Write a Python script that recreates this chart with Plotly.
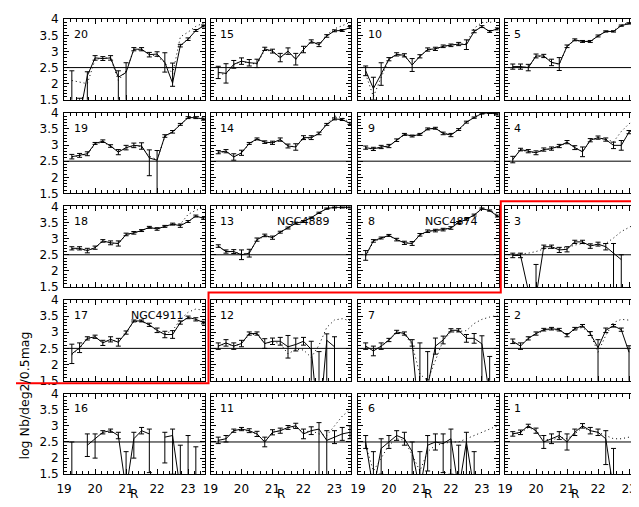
import plotly.graph_objects as go

# ---------------- data ----------------
R = [19.25, 19.5, 19.75, 20.0, 20.25, 20.5, 20.75, 21.0, 21.25, 21.5,
     21.75, 22.0, 22.25, 22.5, 22.75, 23.0, 23.25, 23.5]

panel_order = [20, 15, 10, 5, 19, 14, 9, 4, 18, 13, 8, 3, 17, 12, 7, 2, 16, 11, 6, 1]

# counts (log N), upper errors, lower errors, model (dotted)
v20 = [1.0, 1.0, 2.25, 2.8, 2.78, 2.8, 2.2, 2.35, 3.07, 3.07, 2.9, 2.92, 2.66, 2.02, 3.18, 3.38, 3.65, 3.79]
p20 = [1.4, 0.55, 0.12, 0.07, 0.06, 0.07, 0.2, 0.3, 0.05, 0.05, 0.07, 0.07, 0.3, 0.62, 0.04, 0.04, 0.03, 0.03]
n20 = [1.4, 0.55, 0.8, 0.07, 0.06, 0.07, 0.8, 0.9, 0.05, 0.05, 0.07, 0.07, 0.3, 0.1, 0.04, 0.04, 0.03, 0.03]
m20 = [2.1, 2.05, 2.0, 2.75, 2.8, 2.8, 2.1, 2.4, 3.05, 3.05, 2.92, 2.85, 2.65, 2.3, 3.45, 3.6, 3.78, 3.88]

v15 = [2.35, 2.32, 2.6, 2.7, 2.65, 2.63, 3.08, 3.01, 2.81, 3.01, 2.76, 3.06, 3.31, 3.21, 3.48, 3.64, 3.65, 3.74]
p15 = [0.19, 0.3, 0.12, 0.1, 0.1, 0.13, 0.05, 0.06, 0.13, 0.1, 0.18, 0.1, 0.05, 0.06, 0.04, 0.03, 0.03, 0.03]
n15 = p15
m15 = [2.3, 2.3, 2.6, 2.68, 2.65, 2.6, 3.05, 3.0, 2.8, 3.0, 2.75, 3.05, 3.3, 3.2, 3.52, 3.7, 3.8, 3.9]

v10 = [2.4, 1.85, 2.3, 2.76, 2.91, 2.88, 2.58, 2.85, 3.06, 3.08, 3.16, 3.19, 3.23, 3.21, 3.62, 3.77, 3.62, 3.7]
p10 = [0.15, 0.35, 0.35, 0.05, 0.05, 0.05, 0.2, 0.05, 0.05, 0.05, 0.04, 0.04, 0.05, 0.15, 0.04, 0.03, 0.03, 0.03]
n10 = p10
m10 = [2.3, 1.6, 2.2, 2.75, 2.9, 2.85, 2.6, 2.85, 3.05, 3.08, 3.15, 3.2, 3.22, 3.25, 3.72, 3.9, 3.9, 3.95]

v5 = [2.53, 2.53, 2.5, 2.86, 2.86, 2.66, 2.61, 3.16, 3.36, 3.31, 3.31, 3.48, 3.62, 3.62, 3.8, 3.87, 3.92, 3.95]
p5 = [0.08, 0.08, 0.1, 0.06, 0.05, 0.1, 0.2, 0.04, 0.03, 0.03, 0.03, 0.03, 0.02, 0.02, 0.02, 0.02, 0.02, 0.02]
n5 = p5
m5 = [2.5, 2.52, 2.5, 2.85, 2.85, 2.66, 2.6, 3.15, 3.35, 3.3, 3.32, 3.48, 3.62, 3.64, 3.82, 3.9, 3.95, 3.98]

v19 = [2.64, 2.68, 2.73, 3.05, 3.12, 2.97, 2.78, 2.92, 2.99, 2.97, 2.6, 2.53, 3.28, 3.41, 3.64, 3.85, 3.85, 3.8]
p19 = [0.07, 0.06, 0.06, 0.03, 0.04, 0.04, 0.08, 0.07, 0.07, 0.1, 0.25, 0.3, 0.04, 0.04, 0.03, 0.03, 0.03, 0.03]
n19 = [0.07, 0.06, 0.06, 0.03, 0.04, 0.04, 0.08, 0.07, 0.07, 0.1, 0.55, 1.1, 0.04, 0.04, 0.03, 0.03, 0.03, 0.03]
m19 = [2.62, 2.66, 2.72, 3.02, 3.1, 2.96, 2.8, 2.9, 2.97, 2.95, 2.65, 2.55, 3.25, 3.4, 3.62, 3.85, 3.9, 3.85]

v14 = [2.78, 2.81, 2.63, 2.76, 3.05, 3.19, 3.09, 3.07, 3.17, 2.97, 2.94, 3.23, 3.23, 3.36, 3.64, 3.81, 3.79, 3.67]
p14 = [0.05, 0.05, 0.1, 0.08, 0.03, 0.03, 0.04, 0.05, 0.05, 0.06, 0.1, 0.06, 0.06, 0.04, 0.03, 0.03, 0.03, 0.03]
n14 = p14
m14 = [2.76, 2.8, 2.65, 2.75, 3.03, 3.17, 3.08, 3.06, 3.15, 2.97, 2.95, 3.2, 3.22, 3.36, 3.66, 3.9, 3.85, 3.7]

v9 = [2.92, 2.88, 2.94, 2.97, 3.15, 3.33, 3.28, 3.33, 3.5, 3.52, 3.36, 3.31, 3.48, 3.71, 3.85, 3.98, 4.0, 3.95]
p9 = [0.05, 0.05, 0.05, 0.05, 0.04, 0.03, 0.03, 0.03, 0.03, 0.03, 0.04, 0.05, 0.03, 0.03, 0.02, 0.02, 0.02, 0.02]
n9 = p9
m9 = [2.9, 2.88, 2.92, 2.96, 3.14, 3.32, 3.28, 3.32, 3.48, 3.52, 3.38, 3.32, 3.48, 3.7, 3.86, 3.98, 4.0, 3.97]

v4 = [2.55, 2.86, 2.81, 2.76, 2.86, 2.89, 2.97, 3.09, 2.92, 2.79, 3.15, 3.23, 3.17, 2.99, 2.99, 3.4, 3.54, 3.6]
p4 = [0.1, 0.04, 0.05, 0.06, 0.05, 0.05, 0.05, 0.05, 0.06, 0.15, 0.05, 0.05, 0.05, 0.1, 0.15, 0.05, 0.04, 0.04]
n4 = p4
m4 = [2.55, 2.84, 2.8, 2.76, 2.85, 2.88, 2.96, 3.07, 2.93, 2.8, 3.13, 3.22, 3.18, 3.1, 3.42, 3.66, 3.8, 3.9]

v18 = [2.7, 2.7, 2.63, 2.72, 2.93, 2.87, 2.85, 3.13, 3.18, 3.25, 3.35, 3.3, 3.38, 3.45, 3.4, 3.53, 3.7, 3.63]
p18 = [0.05, 0.05, 0.07, 0.05, 0.04, 0.06, 0.08, 0.04, 0.04, 0.03, 0.03, 0.04, 0.03, 0.03, 0.05, 0.03, 0.03, 0.03]
n18 = p18
m18 = [2.68, 2.68, 2.63, 2.72, 2.92, 2.86, 2.85, 3.12, 3.17, 3.25, 3.34, 3.3, 3.38, 3.45, 3.45, 3.75, 3.88, 3.95]

v13 = [2.77, 2.6, 2.6, 2.5, 2.55, 2.97, 3.1, 3.03, 3.2, 3.33, 3.48, 3.53, 3.65, 3.8, 3.93, 3.97, 3.97, 3.97]
p13 = [0.04, 0.05, 0.06, 0.15, 0.12, 0.05, 0.04, 0.05, 0.03, 0.03, 0.03, 0.03, 0.02, 0.02, 0.02, 0.02, 0.02, 0.02]
n13 = p13
m13 = [2.75, 2.6, 2.6, 2.52, 2.56, 2.95, 3.08, 3.03, 3.2, 3.33, 3.47, 3.53, 3.66, 3.8, 3.93, 3.98, 3.99, 4.0]

v8 = [2.48, 2.93, 3.02, 3.1, 2.97, 2.87, 2.85, 3.12, 3.23, 3.25, 3.28, 3.33, 3.5, 3.6, 3.73, 3.93, 3.87, 3.7]
p8 = [0.15, 0.04, 0.03, 0.03, 0.04, 0.05, 0.06, 0.04, 0.04, 0.04, 0.04, 0.04, 0.03, 0.03, 0.03, 0.02, 0.02, 0.03]
n8 = p8
m8 = [2.45, 2.9, 3.0, 3.08, 2.97, 2.88, 2.86, 3.1, 3.22, 3.25, 3.28, 3.33, 3.48, 3.6, 3.73, 3.92, 3.88, 3.75]

v3 = [2.48, 2.48, 1.4, 1.2, 2.75, 2.75, 2.65, 2.67, 2.9, 2.9, 2.77, 2.83, 2.75, 2.55, 2.35, None, None, None]
p3 = [0.07, 0.07, 0.05, 1.0, 0.05, 0.05, 0.08, 0.08, 0.05, 0.05, 0.07, 0.06, 0.1, 0.3, 0.15, 0, 0, 0]
n3 = [0.07, 0.07, 0.05, 1.0, 0.05, 0.05, 0.08, 0.08, 0.05, 0.05, 0.07, 0.06, 0.1, 1.2, 1.0, 0, 0, 0]
m3 = [2.5, 2.52, 2.55, 2.6, 2.68, 2.7, 2.7, 2.72, 2.8, 2.85, 2.8, 2.82, 2.85, 3.02, 3.22, 3.35, 3.47, 3.55]

v17 = [2.33, 2.52, 2.81, 2.86, 2.67, 2.78, 2.69, 2.99, 3.35, 3.35, 3.23, 3.06, 2.93, 2.93, 3.3, 3.46, 3.4, 3.3]
p17 = [0.3, 0.15, 0.05, 0.05, 0.08, 0.08, 0.12, 0.05, 0.03, 0.03, 0.05, 0.07, 0.1, 0.12, 0.05, 0.04, 0.05, 0.04]
n17 = p17
m17 = [2.3, 2.5, 2.8, 2.85, 2.68, 2.77, 2.7, 2.97, 3.33, 3.34, 3.22, 3.05, 2.95, 3.05, 3.4, 3.62, 3.72, 3.68]

v12 = [2.57, 2.67, 2.57, 2.65, 2.96, 2.96, 2.65, 2.72, 2.72, 2.55, 2.62, 2.72, 2.47, 0.0, 2.75, 2.55, None, None]
p12 = [0.1, 0.1, 0.1, 0.1, 0.05, 0.05, 0.15, 0.1, 0.12, 0.35, 0.2, 0.12, 0.25, 2.4, 0.2, 0.31, 0, 0]
n12 = [0.1, 0.1, 0.1, 0.1, 0.05, 0.05, 0.15, 0.1, 0.12, 0.35, 0.2, 0.12, 1.0, 2.4, 1.3, 1.1, 0, 0]
m12 = [2.57, 2.65, 2.57, 2.65, 2.93, 2.93, 2.65, 2.7, 2.65, 2.33, 2.47, 2.45, 2.22, 2.6, 3.15, 3.38, 3.42, 3.36]

v7 = [2.57, 2.42, 2.57, 2.76, 3.01, 2.96, 2.67, 0.0, 1.3, 2.57, 2.76, 3.06, 3.06, 2.81, 2.81, 2.64, 1.0, None]
p7 = [0.1, 0.15, 0.1, 0.05, 0.05, 0.05, 0.1, 2.67, 1.1, 0.25, 0.12, 0.05, 0.05, 0.12, 0.15, 0.25, 1.25, 0]
n7 = [0.1, 0.15, 0.1, 0.05, 0.05, 0.05, 0.1, 2.67, 1.1, 0.25, 0.12, 0.05, 0.05, 0.12, 0.15, 1.2, 1.25, 0]
m7 = [2.55, 2.45, 2.55, 2.75, 2.98, 2.95, 2.6, 1.7, 1.5, 2.14, 2.75, 3.0, 3.02, 3.05, 3.27, 3.4, 3.47, 3.52]

v2 = [2.72, 2.57, 2.81, 2.96, 3.08, 3.11, 3.08, 2.91, 3.11, 3.2, 2.96, 2.52, 3.06, 3.2, 3.08, 2.38, None, None]
p2 = [0.07, 0.1, 0.05, 0.05, 0.04, 0.04, 0.04, 0.05, 0.04, 0.04, 0.06, 0.25, 0.07, 0.04, 0.05, 0.2, 0, 0]
n2 = [0.07, 0.1, 0.05, 0.05, 0.04, 0.04, 0.04, 0.05, 0.04, 0.04, 0.06, 1.1, 0.07, 0.04, 0.05, 1.0, 0, 0]
m2 = [2.7, 2.6, 2.8, 2.95, 3.05, 3.1, 3.05, 2.92, 3.08, 3.15, 2.95, 2.38, 2.9, 3.3, 3.4, 3.38, 3.35, 3.3]

v16 = [1.0, None, 2.4, 2.6, 2.8, 2.85, 2.7, 1.0, 2.6, 2.85, 2.75, None, 2.65, 2.7, 1.0, 1.0, 1.0, None]
p16 = [1.5, 0, 0.35, 0.15, 0.05, 0.05, 0.1, 1.2, 0.2, 0.1, 0.15, 0, 0.15, 0.2, 1.4, 1.7, 1.35, 0]
n16 = [1.5, 0, 0.35, 0.6, 0.05, 0.05, 0.1, 1.2, 0.6, 0.1, 1.2, 0, 0.8, 1.2, 1.4, 1.7, 1.35, 0]
m16 = [None] * 18

v11 = [2.55, 2.6, 2.85, 2.9, 2.85, 2.75, 2.5, 2.8, 2.85, 2.95, 3.0, 2.75, 2.85, 2.9, 2.55, 2.65, 2.75, 2.8]
p11 = [0.1, 0.1, 0.05, 0.05, 0.06, 0.08, 0.15, 0.08, 0.08, 0.06, 0.08, 0.15, 0.12, 0.2, 0.3, 0.2, 0.2, 0.2]
n11 = [0.1, 0.1, 0.05, 0.05, 0.06, 0.08, 0.15, 0.08, 0.08, 0.06, 0.08, 0.15, 0.12, 1.5, 1.1, 0.2, 0.2, 0.2]
m11 = [2.55, 2.6, 2.85, 2.9, 2.82, 2.75, 2.5, 2.8, 2.85, 2.95, 2.95, 2.8, 2.85, 2.75, 2.7, 3.0, 3.3, 3.5]

v6 = [2.5, 1.0, 2.3, 2.5, 2.7, 2.6, 2.2, 1.0, 2.4, 2.5, 2.45, 2.6, 1.0, 2.5, 1.0, None, None, None]
p6 = [0.2, 1.2, 0.3, 0.2, 0.15, 0.2, 0.3, 1.2, 0.3, 0.25, 0.3, 0.3, 1.4, 0.3, 1.2, 0, 0, 0]
n6 = [0.2, 1.2, 0.8, 0.2, 0.15, 0.2, 0.8, 1.2, 0.8, 0.25, 0.9, 1.1, 1.4, 1.1, 1.2, 0, 0, 0]
m6 = [2.4, 1.6, 2.0, 2.4, 2.6, 2.55, 2.1, 1.6, 2.2, 2.4, 2.45, 2.5, 2.5, 2.6, 2.7, 2.8, 2.9, 3.0]

v1 = [2.75, 2.8, 3.0, 2.85, 2.5, 2.6, 2.7, 2.5, 2.8, 3.0, 2.85, 2.8, 2.6, 1.0, None, None, None, None]
p1 = [0.07, 0.07, 0.05, 0.08, 0.2, 0.15, 0.12, 0.25, 0.1, 0.07, 0.1, 0.1, 0.25, 1.3, 0, 0, 0, 0]
n1 = [0.07, 0.07, 0.05, 0.08, 0.2, 0.15, 0.12, 0.25, 0.1, 0.07, 0.1, 0.1, 0.8, 1.3, 0, 0, 0, 0]
m1 = [2.75, 2.78, 2.95, 2.85, 2.6, 2.55, 2.65, 2.6, 2.75, 2.95, 2.85, 2.8, 2.7, 2.6, 2.6, 2.65, 2.7, 2.75]

data = {
    20: (v20, p20, n20, m20), 15: (v15, p15, n15, m15), 10: (v10, p10, n10, m10), 5: (v5, p5, n5, m5),
    19: (v19, p19, n19, m19), 14: (v14, p14, n14, m14), 9: (v9, p9, n9, m9), 4: (v4, p4, n4, m4),
    18: (v18, p18, n18, m18), 13: (v13, p13, n13, m13), 8: (v8, p8, n8, m8), 3: (v3, p3, n3, m3),
    17: (v17, p17, n17, m17), 12: (v12, p12, n12, m12), 7: (v7, p7, n7, m7), 2: (v2, p2, n2, m2),
    16: (v16, p16, n16, m16), 11: (v11, p11, n11, m11), 6: (v6, p6, n6, m6), 1: (v1, p1, n1, m1),
}

x_ticks = [19, 20, 21, 22, 23]
y_ticks = [1.5, 2, 2.5, 3, 3.5, 4]
y_tick_text = ["1.5", "2", "2.5", "3", "3.5", "4"]
ref_level = 2.5
galaxy_labels = {13: "NGC4889", 8: "NGC4874", 17: "NGC4911"}

# ---------------- layout (pixels, page coordinates) ----------------
PAGE_OFF = 8          # default body margin of the html page
W, H = 639 - PAGE_OFF, 507 - PAGE_OFF
col_left = [56.7, 205.0, 354.3, 503.3]
col_w = 142.6
row_top = [12.3, 108.6, 204.9, 301.2, 397.5]
row_h = 83.0
PX_PER_MAG = 31.4
FONT = "DejaVu Sans"


def px(xp):
    return (xp - PAGE_OFF) / W


def py(yp):
    return 1 - (yp - PAGE_OFF) / H


fig = go.Figure()
layout = {}
shapes = []
annotations = []

for k, pid in enumerate(panel_order):
    r, c = divmod(k, 4)
    n = k + 1
    xa = "x" if n == 1 else f"x{n}"
    ya = "y" if n == 1 else f"y{n}"
    vals, ep, em, mod = data[pid]

    fig.add_trace(go.Scatter(
        x=R, y=mod, mode="lines", xaxis=xa, yaxis=ya,
        line=dict(color="black", width=1, dash="1px,3px"),
        connectgaps=False, hoverinfo="skip", showlegend=False))
    fig.add_trace(go.Scatter(
        x=R, y=vals, mode="lines", xaxis=xa, yaxis=ya,
        line=dict(color="black", width=1),
        error_y=dict(type="data", symmetric=False, array=ep, arrayminus=em,
                     color="black", thickness=1, width=2.5),
        connectgaps=False, showlegend=False))

    left = col_left[c]
    right = min(left + col_w, 639)
    x_range = [19, 19 + (right - left) / PX_PER_MAG]

    xkey = "xaxis" if n == 1 else f"xaxis{n}"
    ykey = "yaxis" if n == 1 else f"yaxis{n}"
    layout[xkey] = dict(
        domain=[px(left), min(px(right), 1.0)], anchor=ya, range=x_range,
        showgrid=False, zeroline=False,
        showline=True, linecolor="black", linewidth=1, mirror="allticks",
        ticks="inside", ticklen=5, tickcolor="black", tickwidth=1,
        tickmode="array", tickvals=x_ticks,
        showticklabels=(r == 4), ticklabelstandoff=3,
        tickfont=dict(family=FONT, size=12, color="black"),
        minor=dict(ticks="inside", ticklen=3, dtick=0.2, tick0=19, tickcolor="black", showgrid=False),
        fixedrange=True)
    layout[ykey] = dict(
        domain=[py(row_top[r] + row_h), py(row_top[r])], anchor=xa, range=[1.5, 4.0],
        showgrid=False, zeroline=False,
        showline=True, linecolor="black", linewidth=1,
        mirror=("allticks" if c < 3 else False),
        ticks="inside", ticklen=5, tickcolor="black", tickwidth=1,
        tickmode="array", tickvals=y_ticks, ticktext=y_tick_text,
        showticklabels=(c == 0), ticklabelstandoff=2,
        tickfont=dict(family=FONT, size=12, color="black"),
        minor=dict(ticks="inside", ticklen=3, dtick=0.1, tick0=1.5, tickcolor="black", showgrid=False),
        fixedrange=True)

    shapes.append(dict(type="line", xref=f"{xa} domain", yref=ya, x0=0, x1=1,
                       y0=ref_level, y1=ref_level, line=dict(color="black", width=1)))
    annotations.append(dict(text=str(pid), xref=f"{xa} domain", yref=f"{ya} domain",
                            x=0.055, y=0.81, xanchor="left", yanchor="middle", showarrow=False,
                            font=dict(family=FONT, size=11, color="black")))
    if pid in galaxy_labels:
        annotations.append(dict(text=galaxy_labels[pid], xref=f"{xa} domain", yref=f"{ya} domain",
                                x=0.66, y=0.81, xanchor="center", yanchor="middle", showarrow=False,
                                font=dict(family=FONT, size=11, color="black")))

# x titles
for c in range(4):
    annotations.append(dict(text="R", xref="paper", yref="paper",
                            x=px(col_left[c] + col_w / 2), y=py(501),
                            xanchor="center", yanchor="middle", showarrow=False,
                            font=dict(family=FONT, size=12, color="black")))
# y title
annotations.append(dict(text="log Nb/deg2/0.5mag", xref="paper", yref="paper",
                        x=0.0, y=py(400), textangle=-90,
                        xanchor="left", yanchor="middle", showarrow=False, borderpad=0,
                        font=dict(family=FONT, size=12.5, color="black")))

# red boundary (staircase)
path = (f"M 0 {py(387)} L {px(203)} {py(387)} L {px(203)} {py(293.5)} "
        f"L {px(499)} {py(293.5)} L {px(499)} {py(199.5)} L 1 {py(199.5)}")
shapes.append(dict(type="path", xref="paper", yref="paper", path=path,
                   line=dict(color="red", width=2)))

fig.update_layout(width=W, height=H, margin=dict(l=0, r=0, t=0, b=0),
                  paper_bgcolor="white", plot_bgcolor="white",
                  shapes=shapes, annotations=annotations, showlegend=False, **layout)

fig.write_html("out.html", config={"displayModeBar": False})
